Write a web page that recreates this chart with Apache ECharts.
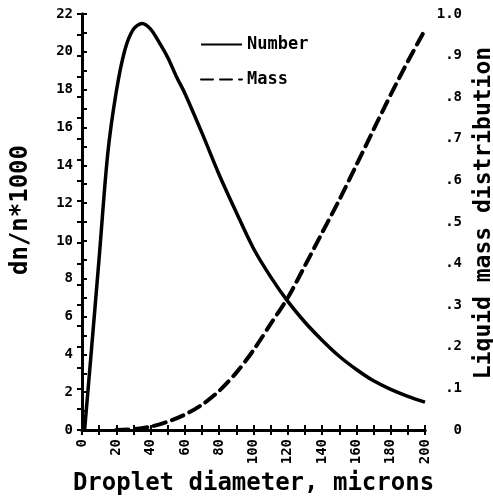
<!DOCTYPE html>
<html>
<head>
<meta charset="utf-8">
<script src="https://cdn.jsdelivr.net/npm/echarts@6/dist/echarts.min.js"></script>
<style>
html,body{margin:0;padding:0;background:#fff;}
#chart{width:493px;height:499px;}
</style>
</head>
<body>
<div id="chart"></div>
<script>
// Droplet diameter (microns) and number distribution dn/n*1000
const numberX = [1.5, 5, 10, 15, 20, 25, 30, 35, 40, 45, 50, 55, 60, 70, 80, 90, 100, 110, 120, 130, 140, 150, 160, 170, 180, 190, 200];
const numberY = [0, 3.7, 9.1, 14.6, 17.9, 20.1, 21.2, 21.5, 21.2, 20.5, 19.7, 18.7, 17.8, 15.7, 13.5, 11.5, 9.6, 8.1, 6.8, 5.7, 4.75, 3.9, 3.2, 2.6, 2.15, 1.78, 1.47];
// Liquid mass distribution (cumulative)
const massX = [20, 30, 40, 50, 60, 70, 80, 90, 100, 110, 120, 130, 140, 150, 160, 170, 180, 190, 200];
const massY = [0, 0.002, 0.008, 0.02, 0.037, 0.061, 0.094, 0.138, 0.192, 0.255, 0.318, 0.395, 0.474, 0.553, 0.637, 0.722, 0.806, 0.886, 0.962];
const seriesNames = ['Number', 'Mass'];
const xTitle = 'Droplet diameter, microns';
const yLeftTitle = 'dn/n*1000';
const yRightTitle = 'Liquid mass distribution';

const FONT = 'DejaVu Sans Mono';
const numberData = numberX.map((x, i) => [x, numberY[i]]);
const massData = massX.map((x, i) => [x, massY[i]]);

const chart = echarts.init(document.getElementById('chart'));
const tickCommon = {show: true, inside: true, length: 5, lineStyle: {color: '#000', width: 2}};
const minorCommon = {show: true, splitNumber: 2, length: 5, lineStyle: {color: '#000', width: 2}};
const lineCommon = {show: true, lineStyle: {color: '#000', width: 3}};
const labelCommon = {color: '#000', fontFamily: FONT, fontWeight: 'bold', fontSize: 14};

chart.setOption({
  animation: false,
  backgroundColor: '#fff',
  grid: {left: 82, right: 68, top: 14, bottom: 69, containLabel: false, outerBoundsMode: 'none'},
  legend: {
    orient: 'vertical', left: 195, top: 31, itemWidth: 41, itemHeight: 12, itemGap: 18,
    data: seriesNames,
    itemStyle: {opacity: 0},
    textStyle: {color: '#000', fontFamily: FONT, fontWeight: 'bold', fontSize: 17}
  },
  xAxis: [{
    type: 'value', min: 0, max: 200, interval: 20, position: 'bottom',
    axisLine: lineCommon, axisTick: tickCommon, minorTick: minorCommon,
    splitLine: {show: false},
    axisLabel: Object.assign({rotate: 90, margin: 9}, labelCommon),
    name: xTitle, nameLocation: 'middle', nameGap: 42,
    nameTextStyle: {color: '#000', fontFamily: FONT, fontWeight: 'bold', fontSize: 24}
  }, {
    type: 'value', min: 0, max: 200, interval: 10, position: 'top',
    axisLine: lineCommon, axisTick: tickCommon, splitLine: {show: false},
    axisLabel: {show: false}
  }],
  yAxis: [{
    type: 'value', min: 0, max: 22, interval: 2, position: 'left',
    axisLine: lineCommon, axisTick: tickCommon, minorTick: minorCommon,
    splitLine: {show: false},
    axisLabel: Object.assign({margin: 9}, labelCommon),
    name: yLeftTitle, nameLocation: 'middle', nameGap: 49, nameRotate: 90,
    nameTextStyle: {color: '#000', fontFamily: FONT, fontWeight: 'bold', fontSize: 24, padding: [0, 0, 0, 24]}
  }, {
    type: 'value', min: 0, max: 1, interval: 0.1, position: 'right',
    axisLine: lineCommon, axisTick: tickCommon, minorTick: minorCommon,
    splitLine: {show: false},
    axisLabel: Object.assign({margin: 37, align: 'right',
      formatter: v => v === 0 ? '0' : (v >= 1 ? '1.0' : ('.' + Math.round(v * 10)))}, labelCommon),
    name: yRightTitle, nameLocation: 'middle', nameGap: 45, nameRotate: 90,
    nameTextStyle: {color: '#000', fontFamily: FONT, fontWeight: 'bold', fontSize: 23, padding: [0, 0, 0, 18]}
  }],
  series: [{
    name: seriesNames[0], type: 'line', xAxisIndex: 0, yAxisIndex: 0,
    data: numberData, smooth: 0.3, symbol: 'none',
    lineStyle: {color: '#000', width: 3.5}, itemStyle: {color: '#000'}
  }, {
    name: seriesNames[1], type: 'line', xAxisIndex: 0, yAxisIndex: 1,
    data: massData, smooth: 0.3, symbol: 'none',
    lineStyle: {color: '#000', width: 4, type: [12, 7], cap: 'round'}, itemStyle: {color: '#000'}
  }]
});
</script>
</body>
</html>
